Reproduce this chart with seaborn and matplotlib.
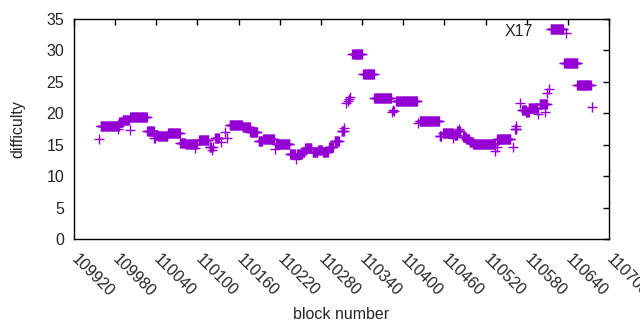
import pandas as pd
import matplotlib
matplotlib.use("Agg")
import matplotlib.pyplot as plt
import seaborn as sns

# difficulty per block, stored as runs of consecutive blocks
# (first block, last block, difficulty)
run_first = [109957, 109959, 109979, 109984, 109986, 109991, 110001, 110002, 110027, 110037,
             110039, 110042, 110057, 110075, 110083, 110097, 110102, 110118, 110121, 110122,
             110126, 110135, 110140, 110143, 110147, 110166, 110177, 110189, 110196, 110213,
             110215, 110235, 110243, 110245, 110253, 110257, 110268, 110276, 110283, 110292,
             110300, 110310, 110314, 110317, 110319, 110321, 110323, 110326, 110342, 110358,
             110384, 110385, 110386, 110390, 110422, 110424, 110453, 110458, 110473, 110475,
             110479, 110481, 110487, 110492, 110497, 110502, 110534, 110536, 110537, 110560,
             110563, 110564, 110570, 110573, 110579, 110583, 110596, 110599, 110607, 110610,
             110613, 110615, 110638, 110635, 110654, 110675]
run_last = [109957, 109978, 109985, 109984, 109990, 110000, 110001, 110026, 110036, 110038,
            110041, 110056, 110074, 110082, 110099, 110097, 110116, 110120, 110121, 110122,
            110131, 110135, 110140, 110143, 110165, 110176, 110187, 110194, 110211, 110213,
            110234, 110242, 110243, 110252, 110256, 110266, 110275, 110281, 110290, 110297,
            110306, 110313, 110314, 110317, 110319, 110321, 110323, 110340, 110357, 110382,
            110384, 110385, 110386, 110420, 110422, 110452, 110455, 110472, 110473, 110478,
            110483, 110481, 110491, 110496, 110501, 110534, 110534, 110536, 110556, 110560,
            110565, 110564, 110570, 110579, 110583, 110595, 110596, 110609, 110607, 110610,
            110613, 110633, 110638, 110654, 110673, 110675]
run_difficulty = [15.9, 17.9, 18.0, 17.5, 18.55, 18.9, 17.3, 19.4, 17.15, 16.0,
                  16.5, 16.4, 16.8, 15.2, 15.05, 14.5, 15.75, 14.7, 14.2, 14.6,
                  16.0, 15.5, 17.1, 16.0, 18.1, 17.8, 17.0, 15.6, 15.9, 14.3,
                  15.1, 13.6, 12.8, 13.6, 13.9, 14.5, 13.9, 14.2, 13.9, 14.7,
                  15.6, 17.2, 17.6, 21.6, 21.9, 22.2, 22.6, 29.5, 26.2, 22.4,
                  20.2, 20.6, 20.4, 22.0, 18.4, 18.7, 16.4, 16.9, 16.1, 16.5,
                  17.2, 17.5, 16.3, 15.9, 15.5, 15.05, 14.0, 14.6, 15.9, 14.6,
                  17.45, 17.9, 21.7, 20.6, 20.25, 20.8, 19.9, 21.5, 20.25, 23.2,
                  23.8, 33.4, 32.8, 27.95, 24.45, 20.95]

x_ticks = [109920, 109980, 110040, 110100, 110160, 110220, 110280, 110340,
           110400, 110460, 110520, 110580, 110640, 110700]
y_ticks = [0, 5, 10, 15, 20, 25, 30, 35]

rows = []
for first, last, diff in zip(run_first, run_last, run_difficulty):
    for block in range(first, last + 1):
        rows.append((block, diff))
df = pd.DataFrame(rows, columns=['block', 'difficulty'])

sns.set_style('white')
plt.rcParams['font.family'] = ['Liberation Sans', 'DejaVu Sans']
fs = 11.5

fig, ax = plt.subplots(figsize=(6.4, 3.3), dpi=100)
fig.subplots_adjust(left=0.1156, right=0.9516, bottom=0.2758, top=0.9424)

sns.scatterplot(data=df, x='block', y='difficulty', marker='+', color='#9400d3',
                s=44, linewidth=1, ax=ax, legend=False)

ax.set_xlim(109920, 110700)
ax.set_ylim(0, 35)
ax.set_xticks(x_ticks)
ax.set_yticks(y_ticks)
ax.set_xticklabels([str(t) for t in x_ticks], rotation=-45, ha='left', va='center',
                   rotation_mode='anchor', fontsize=fs)
ax.set_yticklabels([str(t) for t in y_ticks], fontsize=fs)
ax.tick_params(direction='in', length=4, width=1, top=True, right=True, color='black')
ax.tick_params(axis='x', pad=13)
ax.tick_params(axis='y', pad=7)
for sp in ax.spines.values():
    sp.set_color('black')
    sp.set_linewidth(1)

ax.set_xlabel('block number', fontsize=fs, va='center')
ax.set_ylabel('difficulty', fontsize=fs, va='center')
ax.xaxis.set_label_coords(0.5, -0.345)
ax.yaxis.set_label_coords(-0.1047, 0.5)
ax.text(0.858, 0.942, 'X17', transform=ax.transAxes, ha='right', va='center', fontsize=fs)

plt.savefig('out.png', dpi=100)
